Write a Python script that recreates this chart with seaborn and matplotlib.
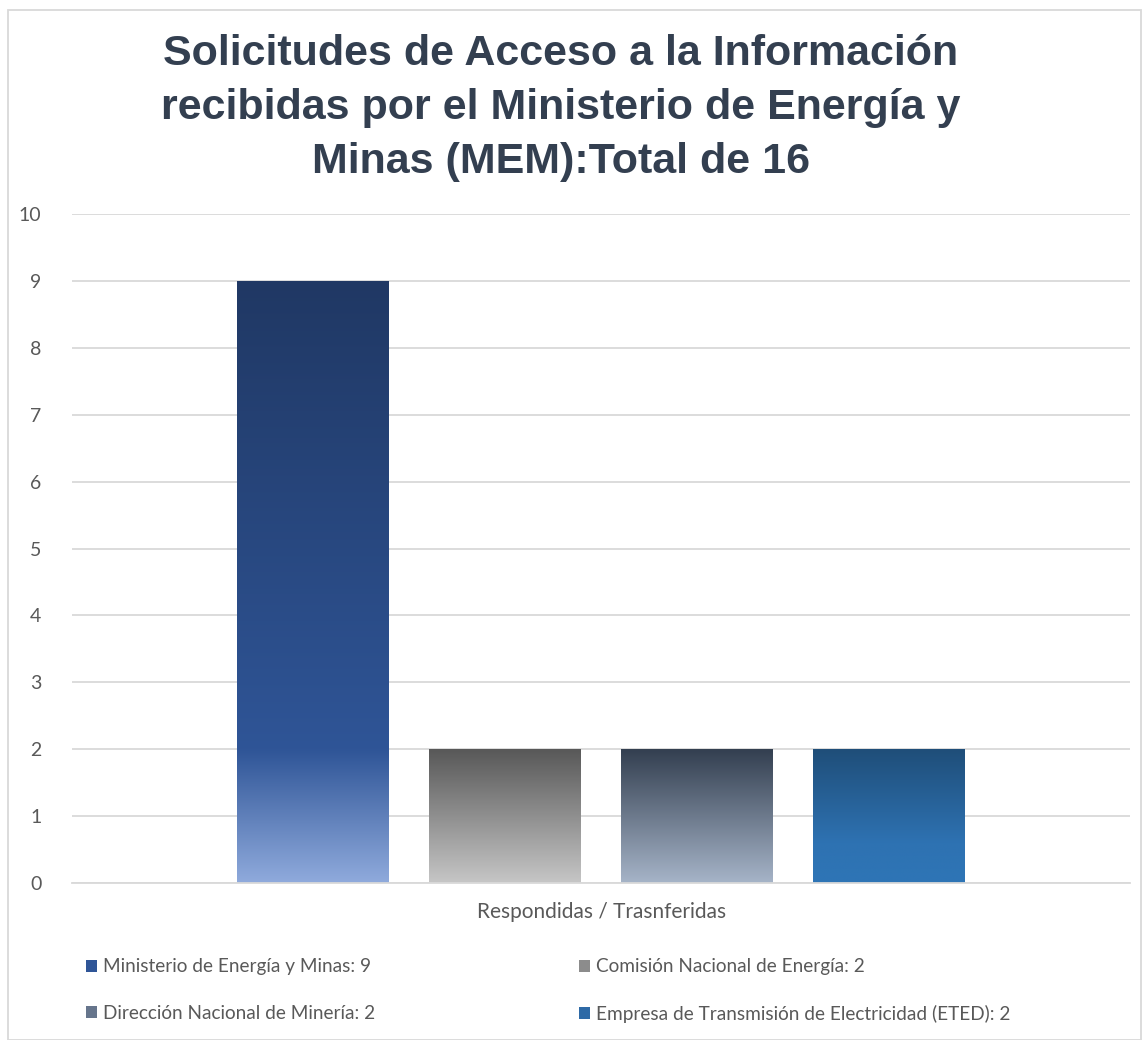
import numpy as np
import pandas as pd
import matplotlib
matplotlib.use("Agg")
import matplotlib.pyplot as plt
import seaborn as sns
from matplotlib.colors import LinearSegmentedColormap
from matplotlib.patches import Patch, Rectangle

# ---------------- data ----------------
category = ["Respondidas / Trasnferidas"]
entities = [
    "Ministerio de Energía y Minas",
    "Comisión Nacional de Energía",
    "Dirección Nacional de Minería",
    "Empresa de Transmisión de Electricidad (ETED)",
]
values = [9, 2, 2, 2]
yticks = [0, 1, 2, 3, 4, 5, 6, 7, 8, 9, 10]
title = "Solicitudes de Acceso a la Información\nrecibidas por el Ministerio de Energía y\nMinas (MEM):Total de 16"

# gradient stops (top -> bottom) for each bar
gradients = [
    [(0.0, "#203864"), (0.78, "#2F5597"), (1.0, "#8FAADC")],
    [(0.0, "#585858"), (1.0, "#C6C6C6")],
    [(0.0, "#333F50"), (1.0, "#A6B4C8")],
    [(0.0, "#1F4E79"), (0.7, "#2E72B2"), (1.0, "#2E75B6")],
]
solid = ["#2F5597", "#8C8C8C", "#66758C", "#2E6AA6"]

df = pd.DataFrame({
    "cat": category * len(entities),
    "entity": entities,
    "value": values,
})

sns.set_theme(style="white")
plt.rcParams["font.family"] = ["Lato", "DejaVu Sans"]

fig = plt.figure(figsize=(11.44, 10.4), dpi=100)
ax = fig.add_axes([0.063, 0.151, 0.925, 0.643])

sns.barplot(data=df, x="cat", y="value", hue="entity", hue_order=entities,
            palette=solid, width=0.726, gap=0.21, legend=False, ax=ax,
            edgecolor="none", linewidth=0, saturation=1)

# gradient fills clipped to each bar
for patch, stops in zip(ax.patches, gradients):
    bb = patch.get_bbox()
    cmap = LinearSegmentedColormap.from_list("g", stops)
    grad = np.linspace(0, 1, 256).reshape(-1, 1)
    im = ax.imshow(grad, cmap=cmap, aspect="auto",
                   extent=[bb.x0, bb.x1, bb.y0, bb.y1], origin="upper",
                   zorder=patch.get_zorder() + 0.1, interpolation="bicubic")
    im.set_clip_path(patch)

ax.set_xlim(-0.5, 0.5)
ax.set_ylim(0, 10)
ax.set_yticks(yticks)
ax.grid(axis="y", color="#D9D9D9", linewidth=1.3)
ax.set_axisbelow(True)
for s in ["top", "right", "left"]:
    ax.spines[s].set_visible(False)
ax.spines["bottom"].set_color("#D9D9D9")
ax.spines["bottom"].set_linewidth(1.3)
ax.tick_params(axis="y", length=0, labelsize=14, labelcolor="#595959", pad=22)
ax.tick_params(axis="x", length=0, labelsize=15, labelcolor="#595959", pad=14)
ax.set_xlabel("")
ax.set_ylabel("")

fig.text(0.49, 0.967, title, ha="center", va="top", fontsize=31,
         fontweight="bold", color="#333F50", family="Liberation Sans",
         linespacing=1.45)

order = [0, 2, 1, 3]
handles = [Patch(facecolor=solid[i], edgecolor="none") for i in order]
labels = [f"{entities[i]}: {values[i]}" for i in order]
fig.legend(handles, labels, ncol=2, loc="upper left",
           bbox_to_anchor=(0.06, 0.095), frameon=False, fontsize=13.7,
           labelcolor="#595959", handlelength=0.6, handleheight=0.6,
           handletextpad=0.3, columnspacing=10.7, labelspacing=1.55)

fig.patches.append(Rectangle((0.007, 0.0), 0.99, 0.99, transform=fig.transFigure,
                             fill=False, edgecolor="#D9D9D9", linewidth=1.3))

fig.savefig("out.png", dpi=100, facecolor="white")
